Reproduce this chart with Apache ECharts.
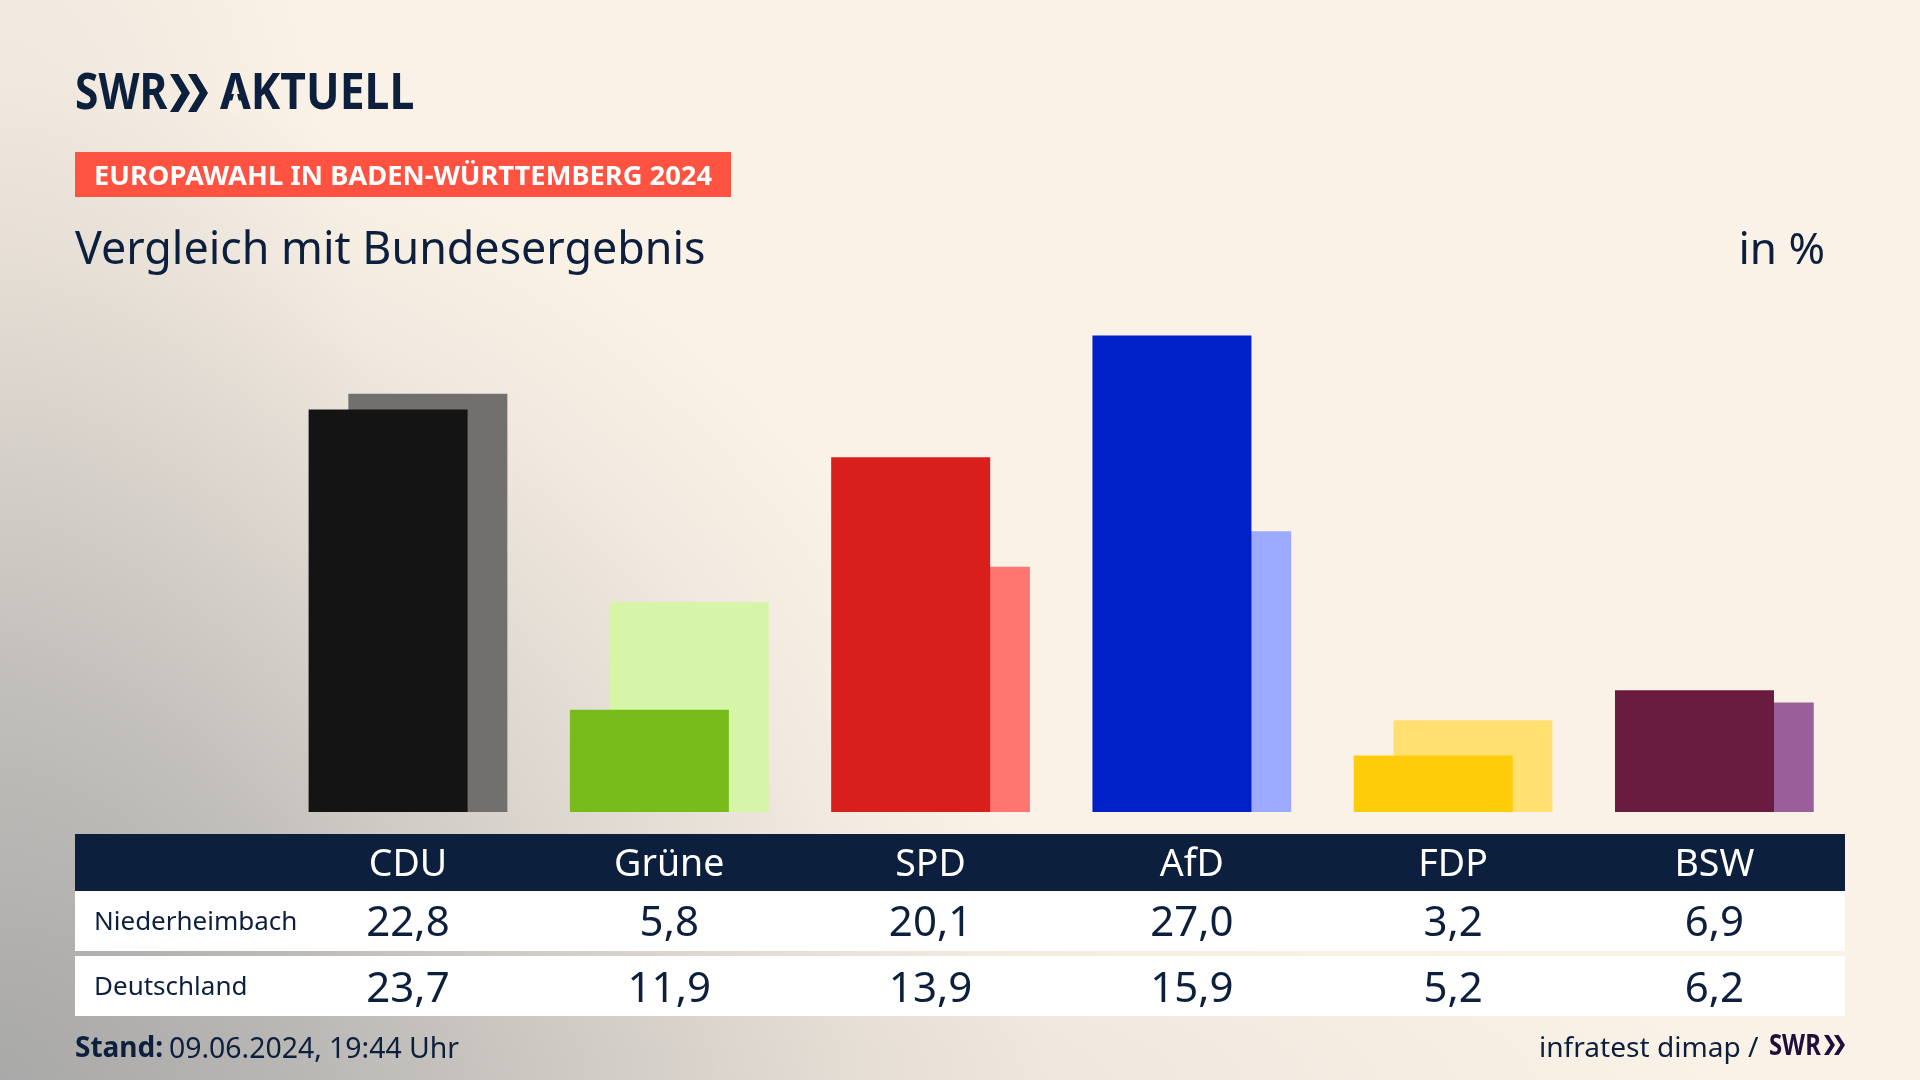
<!DOCTYPE html>
<html><head><meta charset="utf-8">
<style>
html,body{margin:0;padding:0;width:1920px;height:1080px;overflow:hidden;background:#fbf2e7}
#bg{position:absolute;left:0;top:0;width:1920px;height:1080px;background:
radial-gradient(ellipse 1050px 1000px at 0px 1080px,rgba(166,166,166,.95) 0%,rgba(170,170,169,.72) 30%,rgba(176,175,173,.42) 58%,rgba(190,186,180,.16) 82%,rgba(200,195,188,0) 100%),
radial-gradient(ellipse 1450px 230px at 300px 1080px,rgba(180,178,174,.30) 0%,rgba(190,186,180,.18) 55%,rgba(200,195,188,0) 100%),
radial-gradient(ellipse 380px 1200px at 0px 700px,rgba(180,178,174,.30) 0%,rgba(190,186,180,.14) 60%,rgba(200,195,188,0) 100%),
#fbf2e7}
#c{position:absolute;left:0;top:0;width:1920px;height:1080px}
</style>
<script src="https://cdn.jsdelivr.net/npm/echarts@6/dist/echarts.min.js"></script>
</head><body><div id="bg"></div><div id="c"></div>
<script>
const categories=['CDU','Grüne','SPD','AfD','FDP','BSW'];
const niederheimbach=[22.8,5.8,20.1,27.0,3.2,6.9];
const deutschland=[23.7,11.9,13.9,15.9,5.2,6.2];
const colorsLocal=['#141414','#78BC1B','#D81F1C','#0020C8','#FFCC0A','#6A1B40'];
const colorsNational=['#72706E','#D6F5A8','#FF7570','#9CAAFF','#FFE070','#9A5F9A'];
const rowNames=['Niederheimbach','Deutschland'];
const NAVY='#0C1F3D', FONT='"Noto Sans"';
const fmt=v=>v.toFixed(1).replace('.',',');
const chart=echarts.init(document.getElementById('c'),null,{renderer:'canvas'});
const hiddenAxis={type:'category',position:'bottom',axisLine:{show:false},axisTick:{show:false}};
const rowAxis=(vals,margin,size,color)=>Object.assign({},hiddenAxis,{data:vals,z:6,
  axisLabel:{interval:0,margin,verticalAlign:'middle',fontFamily:FONT,fontSize:size,color}});
const rect=(x,y,w,h,fill)=>({type:'rect',z:0,silent:true,shape:{x,y,width:w,height:h},style:{fill}});
const text=(x,y,t,size,opt={})=>({type:'text',z:5,silent:true,x,y,scaleX:opt.sx||1,
  style:{text:t,font:`${opt.weight||'normal'} ${size}px ${FONT}`,fill:opt.fill||NAVY,align:opt.align||'left',verticalAlign:'middle'}});
const chev=(x,y,h,w,fill)=>({type:'polygon',z:5,silent:true,shape:{points:[[x,y],[x+w*0.42,y],[x+w,y+h/2],[x+w*0.42,y+h],[x,y+h],[x+w*0.58,y+h/2]]},style:{fill}});
chart.setOption({
  animation:false,
  grid:{left:277.35,width:1567.65,top:282.5,height:529.5,containLabel:false},
  xAxis:[
    rowAxis(categories,53,37.5,'#ffffff'),
    rowAxis(niederheimbach.map(fmt),112,42,NAVY),
    rowAxis(deutschland.map(fmt),178,42,NAVY)
  ],
  yAxis:{type:'value',min:0,max:30,show:false},
  series:[
    {name:rowNames[0],type:'bar',z:3,barWidth:159,barGap:'-75%',
     data:niederheimbach.map((v,i)=>({value:v,itemStyle:{color:colorsLocal[i]}}))},
    {name:rowNames[1],type:'bar',z:2,barWidth:159,barGap:'-75%',
     data:deutschland.map((v,i)=>({value:v,itemStyle:{color:colorsNational[i]}}))}
  ],
  graphic:{elements:[
    rect(75,834,1770,57,NAVY),
    rect(75,891,1770,60,'#ffffff'),
    rect(75,956,1770,60,'#ffffff'),
    rect(75,152,656,45,'#FF5240'),
    text(75,95,'SWR',50,{weight:'bold',sx:0.85}),
    chev(170,74,38,20,NAVY),chev(188,74,38,20,NAVY),
    text(220,95,'AKTUELL',50,{weight:'bold',sx:0.89}),
    {type:'polygon',z:6,silent:true,shape:{points:[[234.5,92],[236.5,92],[242,113],[229,113]]},style:{fill:'#F9F0E5'}},
    text(94,177,'EUROPAWAHL IN BADEN-WÜRTTEMBERG 2024',27.3,{weight:'bold',fill:'#ffffff'}),
    text(75,251.5,'Vergleich mit Bundesergebnis',44.8),
    text(1825,251.5,'in %',44,{align:'right'}),
    text(94,923,rowNames[0],26),
    text(94,988,rowNames[1],26),
    text(75,1049.5,'Stand:',28,{weight:'bold'}),
    text(169,1049.5,'09.06.2024, 19:44 Uhr',28.4),
    text(1539,1049,'infratest dimap /',28.1),
    text(1769,1047,'SWR',28,{weight:'bold',sx:0.85,fill:'#1E0F3C'}),
    chev(1824,1035,20,11,'#1E0F3C'),chev(1834,1035,20,11,'#1E0F3C')
  ]}
});
</script></body></html>
